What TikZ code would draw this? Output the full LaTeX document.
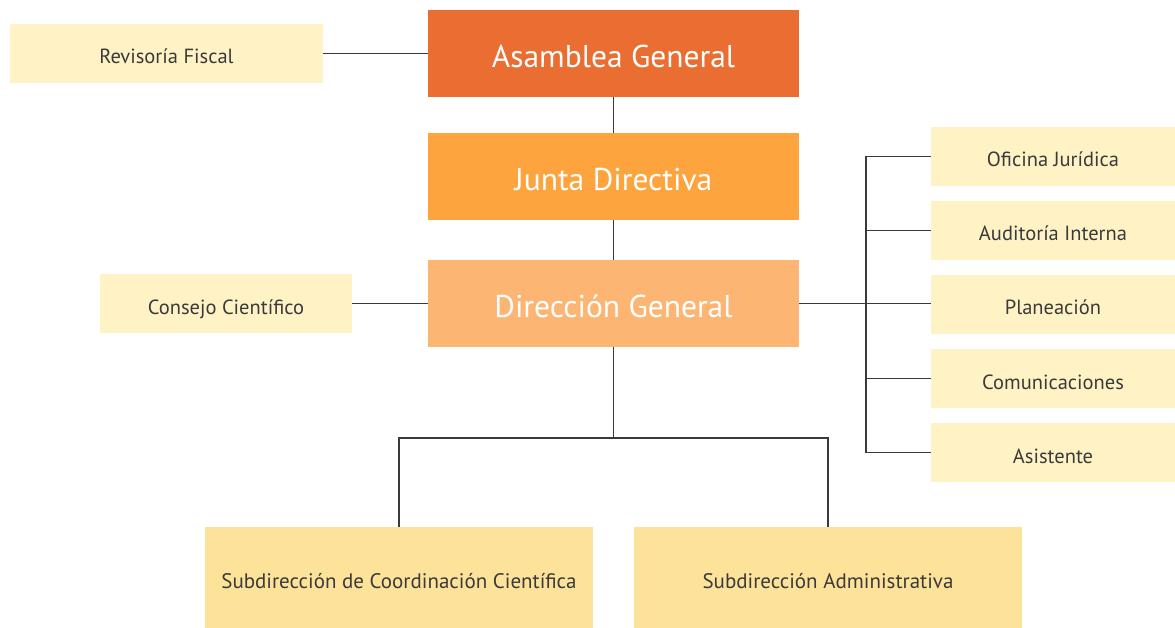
\documentclass[tikz,border=0pt]{standalone}
\usepackage{fontspec}
\setmainfont{PT Sans}
\definecolor{asamblea}{HTML}{EA6D32}
\definecolor{junta}{HTML}{FDA43E}
\definecolor{direccion}{HTML}{FDB573}
\definecolor{apoyo}{HTML}{FFF3C6}
\definecolor{subdir}{HTML}{FDE29A}
\definecolor{texto}{HTML}{3A3A3A}
\tikzset{
  mainbox/.style={minimum width=371pt,minimum height=87pt,inner sep=0pt,
    text height=28pt,text depth=0pt,
    text=white,font=\fontsize{31.5}{36}\selectfont},
  sidebox/.style={fill=apoyo,minimum height=59pt,inner sep=0pt,
    text height=21pt,text depth=0pt,
    text=texto,font=\fontsize{20.5}{24}\selectfont},
  subbox/.style={fill=subdir,minimum width=388pt,minimum height=101pt,inner sep=0pt,
    text height=21.5pt,text depth=0pt,
    text=texto,font=\fontsize{21}{25}\selectfont},
  enlace/.style={line width=1.2pt,draw=texto}
}
\begin{document}
\begin{tikzpicture}[x=1pt,y=-1pt]
\useasboundingbox (0,0) rectangle (1175,628);
% central line
\node[mainbox,fill=asamblea] (AG) at (613.5,53.5) {Asamblea General};
\node[mainbox,fill=junta] (JD) at (613.5,176.5) {Junta Directiva};
\node[mainbox,fill=direccion] (DG) at (613.5,303.5) {Dirección General};
% left side
\node[sidebox,minimum width=313pt] (RF) at (166.5,53.5) {Revisoría Fiscal};
\node[sidebox,minimum width=252pt] (CC) at (226,303.5) {Consejo Científico};
% right side
\node[sidebox,minimum width=244pt] (OJ) at (1053,156.5) {Oficina Jurídica};
\node[sidebox,minimum width=244pt] (AI) at (1053,230.5) {Auditoría Interna};
\node[sidebox,minimum width=244pt] (PL) at (1053,304.5) {Planeación};
\node[sidebox,minimum width=244pt] (CO) at (1053,378.5) {Comunicaciones};
\node[sidebox,minimum width=244pt] (AS) at (1053,452.5) {Asistente};
% bottom
\node[subbox] (SC) at (399,577.5) {Subdirección de Coordinación Científica};
\node[subbox] (SA) at (828,577.5) {Subdirección Administrativa};
\coordinate (bus) at (866,304.5);
\coordinate (fork) at (613.5,438);
% connectors
\draw[enlace] (RF) -- (AG);
\draw[enlace] (AG) -- (JD);
\draw[enlace] (JD) -- (DG);
\draw[enlace] (CC) -- (DG);
\draw[enlace] (DG.east) -- (DG.east -| PL.west);
\draw[enlace] (OJ.west) -- (OJ.west -| bus) -- (AS.west -| bus) -- (AS.west);
\draw[enlace] (AI.west) -- (AI.west -| bus);
\draw[enlace] (CO.west) -- (CO.west -| bus);
\draw[enlace] (DG) -- (fork);
\draw[enlace] (SC.north) |- (fork) -| (SA.north);
\end{tikzpicture}
\end{document}
